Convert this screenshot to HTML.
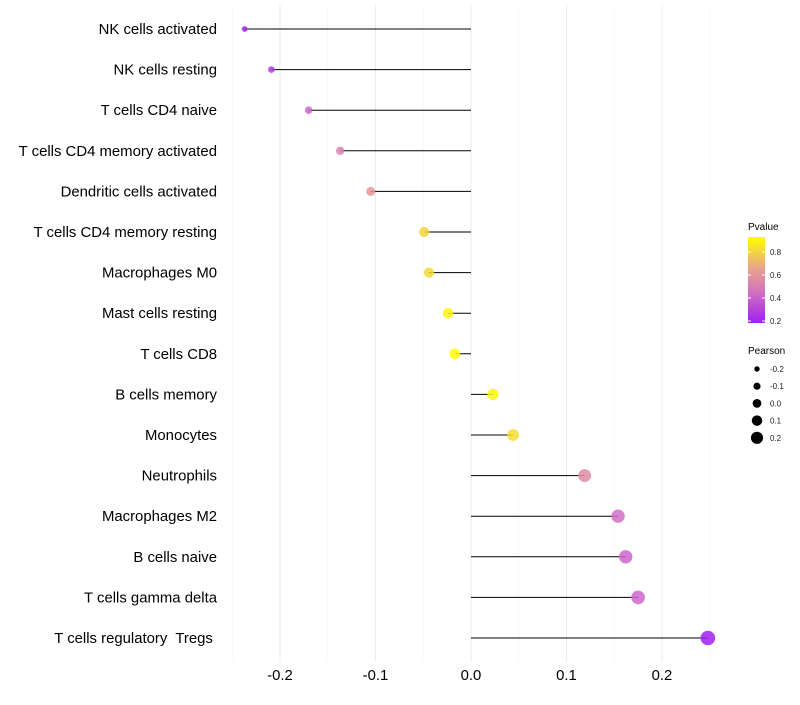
<!DOCTYPE html>
<html><head><meta charset="utf-8"><style>
body{margin:0;background:#fff;font-family:"Liberation Sans",sans-serif;}
text{white-space:pre;}
</style></head><body>
<svg id="chart" width="800" height="700" xmlns="http://www.w3.org/2000/svg">
<defs>
<linearGradient id="pg" x1="0" y1="1" x2="0" y2="0">
<stop offset="0" stop-color="#A020F0"/>
<stop offset="0.35" stop-color="#D070C0"/>
<stop offset="0.62" stop-color="#E8A090"/>
<stop offset="1" stop-color="#FFFF00"/>
</linearGradient>
</defs>
<g id="grid"></g>
<g id="marks"></g>
<g id="ylabels"></g>
<g id="xlabels"></g>
<g>
<text x="748" y="230" font-size="10" fill="#000">Pvalue</text>
<rect x="748" y="237" width="17" height="86" fill="url(#pg)"/>
<g id="cbticks"></g>
</g>
<g id="sizelegend">
<text x="748" y="354" font-size="10" fill="#000">Pearson</text>
</g>
</svg>
<script>
const categories=["NK cells activated","NK cells resting","T cells CD4 naive","T cells CD4 memory activated","Dendritic cells activated","T cells CD4 memory resting","Macrophages M0","Mast cells resting","T cells CD8","B cells memory","Monocytes","Neutrophils","Macrophages M2","B cells naive","T cells gamma delta","T cells regulatory  Tregs "];
const pearson=[-0.237,-0.209,-0.170,-0.137,-0.105,-0.049,-0.044,-0.024,-0.017,0.023,0.044,0.119,0.154,0.162,0.175,0.248];
const pvalue=[0.19,0.27,0.42,0.55,0.65,0.82,0.83,0.9,0.93,0.9,0.84,0.6,0.45,0.42,0.42,0.19];
const xTicks=[-0.2,-0.1,0.0,0.1,0.2];
const xTickLabels=["-0.2","-0.1","0.0","0.1","0.2"];
const cbTicks=[0.2,0.4,0.6,0.8];
const sizeLegend=[-0.2,-0.1,0.0,0.1,0.2];
const NS="http://www.w3.org/2000/svg";
const X=v=>471+v*955;
const Y=i=>29+i*40.6;
const R=p=>Math.sqrt(Math.max(2.25,10.9+92.8*(p+0.209)));
const stops=[[0.19,[160,32,240]],[0.44,[208,108,200]],[0.65,[230,150,150]],[0.93,[255,255,0]]];
function col(p){p=Math.max(0.19,Math.min(0.93,p));for(let i=0;i<stops.length-1;i++){const a=stops[i],b=stops[i+1];if(p<=b[0]){const t=(p-a[0])/(b[0]-a[0]);const c=a[1].map((v,k)=>Math.round(v+(b[1][k]-v)*t));return `rgb(${c})`;}}return "rgb(255,255,0)";}
function mk(tag,attrs,parent){const e=document.createElementNS(NS,tag);for(const k in attrs)e.setAttribute(k,attrs[k]);parent.appendChild(e);return e;}
const grid=document.getElementById('grid');
for(let v=-0.25;v<=0.2501;v+=0.05){const major=Math.abs(Math.round(v*100)%10)===0;
const l=mk('line',{x1:X(v),x2:X(v),y1:5,y2:662,stroke:major?'#ebebeb':'#f4f4f4','stroke-width':major?1:0.6},grid);

}
const marks=document.getElementById('marks');
const yl=document.getElementById('ylabels');
categories.forEach((c,i)=>{
const ln=mk('line',{x1:X(0),x2:X(pearson[i]),y1:Y(i),y2:Y(i),stroke:'#000','stroke-width':1},marks);


const pt=mk('circle',{cx:X(pearson[i]),cy:Y(i),r:R(pearson[i]),fill:col(pvalue[i]),'fill-opacity':0.85},marks);


const t=mk('text',{x:217,y:Y(i)+5,'text-anchor':'end','font-size':14.9,fill:'#000'},yl);
t.textContent=c;

});
const xl=document.getElementById('xlabels');
xTicks.forEach((v,i)=>{const t=mk('text',{x:X(v),y:680,'text-anchor':'middle','font-size':14.9,fill:'#000'},xl);
t.textContent=xTickLabels[i];

});
const cb=document.getElementById('cbticks');
cbTicks.forEach(v=>{const y=321-(v-0.2)*115;
mk('line',{x1:748,x2:751,y1:y,y2:y,stroke:'#fff'},cb);mk('line',{x1:762,x2:765,y1:y,y2:y,stroke:'#fff'},cb);
const t=mk('text',{x:770,y:y+3,'font-size':8,fill:'#222'},cb);t.textContent=v.toFixed(1);

});
const sl=document.getElementById('sizelegend');
sizeLegend.forEach((v,i)=>{const y=369+i*17.2;
const c=mk('circle',{cx:757,cy:y,r:2.7+i*0.85,fill:'#000'},sl);


const t=mk('text',{x:770,y:y+3,'font-size':8,fill:'#222'},sl);t.textContent=v.toFixed(1);

});
</script>
</body></html>
